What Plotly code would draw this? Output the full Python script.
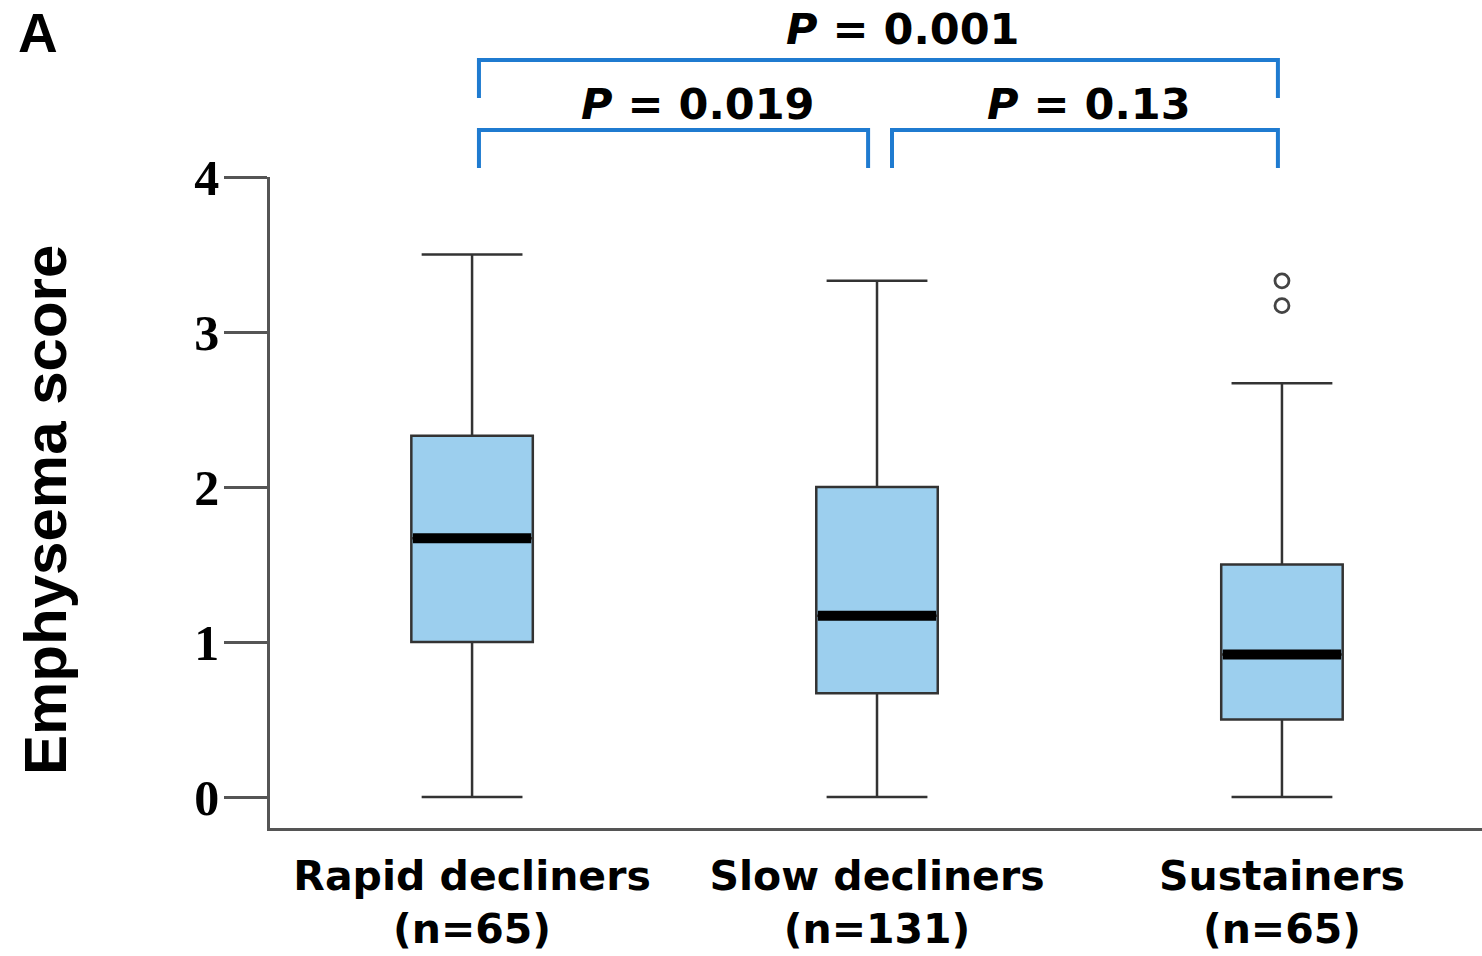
import plotly.graph_objects as go

# ---- data ----
groups = ["Rapid decliners", "Slow decliners", "Sustainers"]
group_n = [65, 131, 65]
lower_fence = [0.0, 0.0, 0.0]
q1_vals = [1.0, 0.67, 0.5]
median_vals = [1.67, 1.17, 0.92]
q3_vals = [2.33, 2.0, 1.5]
upper_fence = [3.5, 3.33, 2.67]
outlier_group = [2, 2]
outlier_vals = [3.33, 3.17]
y_ticks = [0, 1, 2, 3, 4]
comparisons = [(0, 2, "0.001"), (0, 1, "0.019"), (1, 2, "0.13")]

# ---- style ----
W, H = 1482, 956
ML, MR, MT, MB = 270, 0, 177, 128
box_w = 0.3
box_fill = "#9ccfee"
dark = "#333333"
axis_col = "#555555"
bracket_col = "#1f7bd0"
plot_h = H - MT - MB
plot_w = W - ML - MR

def py2paper(py):
    return (H - MB - py) / plot_h

def px2paper(px):
    return (px - ML) / plot_w

xpos = list(range(len(groups)))

fig = go.Figure()
fig.add_trace(go.Box(
    x=xpos, q1=q1_vals, median=median_vals, q3=q3_vals,
    lowerfence=lower_fence, upperfence=upper_fence,
    width=box_w, whiskerwidth=0.83,
    fillcolor=box_fill, line=dict(color=dark, width=2.5),
    boxpoints=False, showlegend=False, hoverinfo="skip",
))
for i, m in zip(xpos, median_vals):
    fig.add_trace(go.Scatter(
        x=[i - box_w / 2 + 0.004, i + box_w / 2 - 0.004], y=[m, m], mode="lines",
        line=dict(color="black", width=10), showlegend=False, hoverinfo="skip",
    ))
fig.add_trace(go.Scatter(
    x=outlier_group, y=outlier_vals, mode="markers",
    marker=dict(symbol="circle-open", size=14, color="#444444", line=dict(width=2.8)),
    showlegend=False, hoverinfo="skip",
))

# brackets
levels = {(0, 2): (60, 98), (0, 1): (130, 168), (1, 2): (130, 168)}
text_base = {(0, 2): 45, (0, 1): 120, (1, 2): 120}
text_dx = {(0, 2): 0.06, (0, 1): 0.06, (1, 2): 0.01}
for a, b, p in comparisons:
    top, bot = levels[(a, b)]
    xa = a + 0.017 + (0.02 if (a == 1) else 0)
    xb = b - 0.022 + (0.0 if (b == 1) else 0.012)
    fig.add_shape(type="path",
                  path=f"M {xa},{py2paper(bot)} L {xa},{py2paper(top)} L {xb},{py2paper(top)} L {xb},{py2paper(bot)}",
                  xref="x", yref="paper", line=dict(color=bracket_col, width=4))
    fig.add_annotation(x=(xa + xb) / 2 + text_dx[(a, b)], y=py2paper(text_base[(a, b)] - 16),
                       xref="x", yref="paper", xanchor="center", yanchor="middle",
                       text=f"<b><i>P</i> = {p}</b>", showarrow=False,
                       font=dict(family="DejaVu Sans", size=43, color="black"))

fig.add_annotation(x=px2paper(45), y=py2paper(510), xref="paper", yref="paper",
                   text="<b>Emphysema score</b>", textangle=-90, showarrow=False,
                   xanchor="center", yanchor="middle",
                   font=dict(family="Liberation Sans", size=60, color="black"))
fig.add_annotation(x=px2paper(38), y=py2paper(33), xref="paper", yref="paper",
                   text="<b>A</b>", showarrow=False, xanchor="center", yanchor="middle",
                   font=dict(family="Liberation Sans", size=55, color="black"))

fig.update_layout(
    width=W, height=H, margin=dict(l=ML, r=MR, t=MT, b=MB),
    plot_bgcolor="white", paper_bgcolor="white",
)
fig.update_xaxes(
    range=[-0.499, 2.494], tickvals=xpos,
    ticktext=[f"{g}<br>(n={n})" for g, n in zip(groups, group_n)],
    tickfont=dict(family="DejaVu Sans", size=41, color="black", weight="bold"),
    ticklabelstandoff=10,
    showline=True, linecolor=axis_col, linewidth=2.5, ticks="", showgrid=False, zeroline=False,
)
fig.update_yaxes(
    range=[-0.2, 4], tickvals=y_ticks, ticktext=[str(t) for t in y_ticks],
    tickfont=dict(family="Liberation Serif", size=50, color="black", weight="bold"),
    ticklabelstandoff=-5,
    showline=True, linecolor=axis_col, linewidth=2.5, ticks="outside", ticklen=43,
    tickwidth=2.5, tickcolor=axis_col, showgrid=False, zeroline=False,
)
fig.write_html("out.html", config={"displayModeBar": False},
               post_script="document.body.style.margin='0';document.body.style.overflow='hidden';")
